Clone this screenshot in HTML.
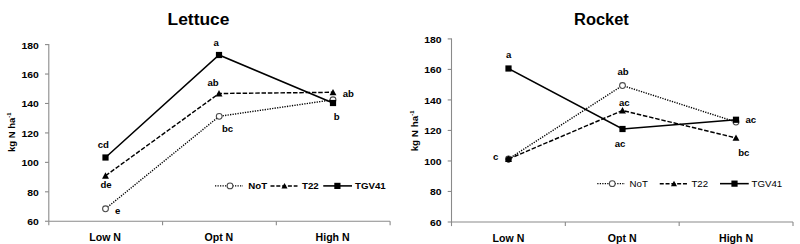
<!DOCTYPE html>
<html lang="en">
<head>
<meta charset="utf-8">
<title>Lettuce and Rocket N uptake</title>
<style>
html,body{margin:0;padding:0;background:#fff;}
body{width:800px;height:244px;overflow:hidden;font-family:"Liberation Sans", sans-serif;}
svg{display:block;}
</style>
</head>
<body>
<svg width="800" height="244" viewBox="0 0 800 244">
<rect width="800" height="244" fill="#fff"/>
<g stroke="#8a8a8a" stroke-width="1.1" fill="none">
<path d="M48.8 44.1 V221.25"/>
<path d="M48.8 221.25 H390.1"/>
<path d="M45.0 44.60 H48.8"/>
<path d="M45.0 74.04 H48.8"/>
<path d="M45.0 103.48 H48.8"/>
<path d="M45.0 132.93 H48.8"/>
<path d="M45.0 162.37 H48.8"/>
<path d="M45.0 191.81 H48.8"/>
<path d="M45.0 221.25 H48.8"/>
<path d="M48.80 221.25 V225.35"/>
<path d="M162.57 221.25 V225.35"/>
<path d="M276.33 221.25 V225.35"/>
<path d="M390.10 221.25 V225.35"/>
</g>
<g font-family='"Liberation Sans", sans-serif' font-weight="bold" font-size="9.9" text-anchor="end" fill="#000">
<text transform="translate(38.80 48.50) scale(1.05 1)">180</text>
<text transform="translate(38.80 77.94) scale(1.05 1)">160</text>
<text transform="translate(38.80 107.38) scale(1.05 1)">140</text>
<text transform="translate(38.80 136.83) scale(1.05 1)">120</text>
<text transform="translate(38.80 166.27) scale(1.05 1)">100</text>
<text transform="translate(38.80 195.71) scale(1.05 1)">80</text>
<text transform="translate(38.80 225.15) scale(1.05 1)">60</text>
</g>
<g font-family='"Liberation Sans", sans-serif' font-weight="bold" font-size="10" text-anchor="middle" fill="#000">
<text transform="translate(105.08 240.55) scale(1.06 1)">Low N</text>
<text transform="translate(218.85 240.55) scale(1.06 1)">Opt N</text>
<text transform="translate(332.62 240.55) scale(1.06 1)">High N</text>
</g>
<text transform="translate(14.75 132.3) rotate(-90)" font-family='"Liberation Sans", sans-serif' font-weight="bold" font-size="9.5" text-anchor="middle" fill="#000">kg N ha<tspan font-size="5.8" dy="-3.6">-1</tspan></text>
<text transform="translate(198.5 24.5) scale(1 1)" font-family='"Liberation Sans", sans-serif' font-weight="bold" font-size="17.4" text-anchor="middle" fill="#000">Lettuce</text>
<path d="M105.50 208.75 L219.20 116.30 L333.00 99.75" fill="none" stroke="#000" stroke-width="1.4" stroke-dasharray="1.25 1.25"/><circle cx="105.50" cy="208.75" r="2.9" fill="#fff" stroke="#4a4a4a" stroke-width="1.05"/><circle cx="219.20" cy="116.30" r="2.9" fill="#fff" stroke="#4a4a4a" stroke-width="1.05"/><circle cx="333.00" cy="99.75" r="2.9" fill="#fff" stroke="#4a4a4a" stroke-width="1.05"/>
<path d="M105.50 175.75 L219.00 93.50 L333.00 92.30" fill="none" stroke="#000" stroke-width="1.45" stroke-dasharray="4.5 1.8"/><path d="M105.50 172.35 L108.95 178.65 L102.05 178.65 Z" fill="#000"/><path d="M219.00 90.10 L222.45 96.40 L215.55 96.40 Z" fill="#000"/><path d="M333.00 88.90 L336.45 95.20 L329.55 95.20 Z" fill="#000"/>
<path d="M105.50 157.50 L219.00 55.00 L333.00 103.00" fill="none" stroke="#000" stroke-width="1.55"/><rect x="102.40" y="154.40" width="6.2" height="6.2" fill="#000"/><rect x="215.90" y="51.90" width="6.2" height="6.2" fill="#000"/><rect x="329.90" y="99.90" width="6.2" height="6.2" fill="#000"/>
<g font-family='"Liberation Sans", sans-serif' font-weight="bold" font-size="9.6" text-anchor="middle" fill="#000">
<text x="103.25" y="147.75">cd</text>
<text x="106" y="188">de</text>
<text x="117.6" y="213.6">e</text>
<text x="216.25" y="45.75">a</text>
<text x="213" y="86">ab</text>
<text x="227.5" y="132">bc</text>
<text x="348.25" y="96.75">ab</text>
<text x="336.8" y="119.75">b</text>
</g>
<path d="M215 185.9 H243" fill="none" stroke="#000" stroke-width="1.4" stroke-dasharray="1.25 1.25"/>
<circle cx="230.00" cy="185.90" r="2.9" fill="#fff" stroke="#4a4a4a" stroke-width="1.05"/>
<text x="248.3" y="189.40" font-family='"Liberation Sans", sans-serif' font-weight="bold" font-size="9.7" fill="#000">NoT</text>
<path d="M270.5 185.9 H297.5" fill="none" stroke="#000" stroke-width="1.45" stroke-dasharray="4 1.8"/>
<path d="M284.50 182.91 L287.54 188.45 L281.46 188.45 Z" fill="#000"/>
<text x="302" y="189.40" font-family='"Liberation Sans", sans-serif' font-weight="bold" font-size="9.7" fill="#000">T22</text>
<path d="M323.25 185.9 H352" fill="none" stroke="#000" stroke-width="1.55"/>
<rect x="334.30" y="182.80" width="6.2" height="6.2" fill="#000"/>
<text x="355" y="189.40" font-family='"Liberation Sans", sans-serif' font-weight="bold" font-size="9.7" fill="#000">TGV41</text>
<g stroke="#8a8a8a" stroke-width="1.1" fill="none">
<path d="M451.5 38.4 V222.0"/>
<path d="M451.5 222.0 H793"/>
<path d="M447.7 38.90 H451.5"/>
<path d="M447.7 69.42 H451.5"/>
<path d="M447.7 99.93 H451.5"/>
<path d="M447.7 130.45 H451.5"/>
<path d="M447.7 160.97 H451.5"/>
<path d="M447.7 191.48 H451.5"/>
<path d="M447.7 222.00 H451.5"/>
<path d="M451.50 222.0 V226.1"/>
<path d="M565.33 222.0 V226.1"/>
<path d="M679.17 222.0 V226.1"/>
<path d="M793.00 222.0 V226.1"/>
</g>
<g font-family='"Liberation Sans", sans-serif' font-weight="bold" font-size="9.9" text-anchor="end" fill="#000">
<text transform="translate(441.50 42.60) scale(1.05 1)">180</text>
<text transform="translate(441.50 73.12) scale(1.05 1)">160</text>
<text transform="translate(441.50 103.63) scale(1.05 1)">140</text>
<text transform="translate(441.50 134.15) scale(1.05 1)">120</text>
<text transform="translate(441.50 164.67) scale(1.05 1)">100</text>
<text transform="translate(441.50 195.18) scale(1.05 1)">80</text>
<text transform="translate(441.50 225.70) scale(1.05 1)">60</text>
</g>
<g font-family='"Liberation Sans", sans-serif' font-weight="bold" font-size="10" text-anchor="middle" fill="#000">
<text transform="translate(508.42 241.50) scale(1.06 1)">Low N</text>
<text transform="translate(622.25 241.50) scale(1.06 1)">Opt N</text>
<text transform="translate(736.08 241.50) scale(1.06 1)">High N</text>
</g>
<text transform="translate(417.6 131) rotate(-90)" font-family='"Liberation Sans", sans-serif' font-weight="bold" font-size="9.85" text-anchor="middle" fill="#000">kg N ha<tspan font-size="5.8" dy="-3.6">-1</tspan></text>
<text transform="translate(601.4 24.5) scale(0.945 1)" font-family='"Liberation Sans", sans-serif' font-weight="bold" font-size="17.4" text-anchor="middle" fill="#000">Rocket</text>
<path d="M508.50 159.00 L622.50 85.50 L736.00 122.00" fill="none" stroke="#000" stroke-width="1.4" stroke-dasharray="1.25 1.25"/><circle cx="508.50" cy="159.00" r="2.9" fill="#fff" stroke="#4a4a4a" stroke-width="1.05"/><circle cx="622.50" cy="85.50" r="2.9" fill="#fff" stroke="#4a4a4a" stroke-width="1.05"/><circle cx="736.00" cy="122.00" r="2.9" fill="#fff" stroke="#4a4a4a" stroke-width="1.05"/>
<path d="M508.50 159.00 L622.50 110.50 L736.00 137.90" fill="none" stroke="#000" stroke-width="1.45" stroke-dasharray="4.5 1.8"/><path d="M508.50 155.60 L511.95 161.90 L505.05 161.90 Z" fill="#000"/><path d="M622.50 107.10 L625.95 113.40 L619.05 113.40 Z" fill="#000"/><path d="M736.00 134.50 L739.45 140.80 L732.55 140.80 Z" fill="#000"/>
<path d="M508.50 68.50 L622.50 129.00 L736.00 119.75" fill="none" stroke="#000" stroke-width="1.55"/><rect x="505.40" y="65.40" width="6.2" height="6.2" fill="#000"/><rect x="619.40" y="125.90" width="6.2" height="6.2" fill="#000"/><rect x="732.90" y="116.65" width="6.2" height="6.2" fill="#000"/>
<circle cx="508.5" cy="159.5" r="2.9" fill="#000"/>
<g font-family='"Liberation Sans", sans-serif' font-weight="bold" font-size="9.6" text-anchor="middle" fill="#000">
<text x="508.75" y="57.5">a</text>
<text x="495.75" y="159.5">c</text>
<text x="623" y="75.25">ab</text>
<text x="624.25" y="105.5">ac</text>
<text x="620" y="146.5">ac</text>
<text x="750.8" y="123">ac</text>
<text x="743.75" y="155.75">bc</text>
</g>
<path d="M597.25 183.65 H625" fill="none" stroke="#000" stroke-width="1.4" stroke-dasharray="1.25 1.25"/>
<circle cx="612.25" cy="183.65" r="2.9" fill="#fff" stroke="#4a4a4a" stroke-width="1.05"/>
<text x="629.6" y="187.15" font-family='"Liberation Sans", sans-serif' font-weight="normal" font-size="9.7" fill="#000">NoT</text>
<path d="M659.75 183.65 H687.5" fill="none" stroke="#000" stroke-width="1.45" stroke-dasharray="4 1.8"/>
<path d="M674.00 180.66 L677.04 186.20 L670.96 186.20 Z" fill="#000"/>
<text x="691.4" y="187.15" font-family='"Liberation Sans", sans-serif' font-weight="normal" font-size="9.7" fill="#000">T22</text>
<path d="M720 183.65 H748.75" fill="none" stroke="#000" stroke-width="1.55"/>
<rect x="731.40" y="180.55" width="6.2" height="6.2" fill="#000"/>
<text x="751.5" y="187.15" font-family='"Liberation Sans", sans-serif' font-weight="normal" font-size="9.7" fill="#000">TGV41</text>
</svg>
</body>
</html>
